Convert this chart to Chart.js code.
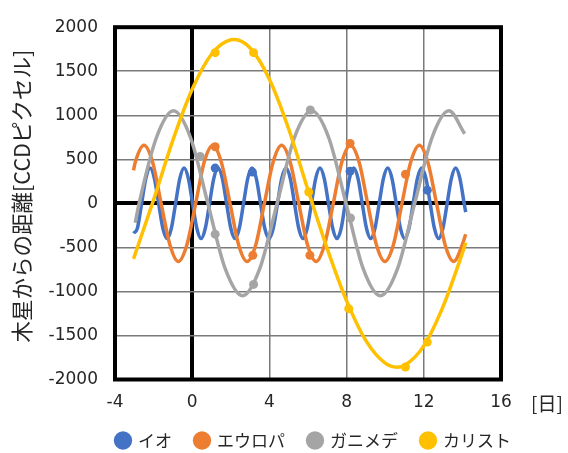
<!DOCTYPE html>
<html><head><meta charset="utf-8">
<script src="https://cdn.jsdelivr.net/npm/chart.js@4/dist/chart.umd.min.js"></script>
<style>html,body{margin:0;padding:0;background:#fff}</style>
</head><body>
<canvas id="c" width="568" height="453"></canvas>
<script>
// ---- data ----
const names = ['イオ', 'エウロパ', 'ガニメデ', 'カリスト'];

const ioDays = [-3.04,-2.84,-2.62,-2.40,-2.18,-1.96,-1.74,-1.52,-1.30,-1.08,-0.86,-0.64,-0.42,-0.20,0.02,0.24,0.46,0.68,0.90,1.12,1.34,1.56,1.78,2.00,2.22,2.44,2.66,2.88,3.10,3.32,3.54,3.76,3.98,4.20,4.42,4.64,4.86,5.08,5.30,5.52,5.74,5.96,6.18,6.40,6.62,6.84,7.06,7.28,7.50,7.72,7.93,8.15,8.37,8.59,8.81,9.03,9.25,9.47,9.69,9.91,10.13,10.35,10.57,10.79,11.01,11.23,11.45,11.67,11.89,12.11,12.33,12.55,12.77,12.99,13.21,13.43,13.65,13.87,14.09,14.17];
const ioDist = [-340,
  -283,0,283,400,283,0,-283,-400,
  -283,0,283,400,283,0,-283,-400,
  -283,0,283,400,283,0,-283,-400,
  -283,0,283,400,283,0,-283,-400,
  -283,0,283,400,283,0,-283,-400,
  -283,0,283,400,283,0,-283,-400,
  -283,0,283,400,283,0,-283,-400,
  -283,0,283,400,283,0,-283,-400,
  -283,0,283,400,283,0,-283,-400,
  -283,0,283,400,283,0,
  -100];

const euDays = [-3.04,-2.95,-2.50,-2.05,-1.61,-1.16,-0.72,-0.27,0.18,0.62,1.07,1.51,1.96,2.40,2.85,3.30,3.74,4.19,4.63,5.08,5.52,5.97,6.42,6.86,7.31,7.75,8.20,8.65,9.09,9.54,9.98,10.43,10.87,11.32,11.77,12.21,12.66,13.10,13.55,14.00,14.17];
const euDist = [375,467,660,467,0,-467,-660,-467,0,467,660,467,0,-467,-660,-467,0,467,660,467,0,-467,-660,-467,0,467,660,467,0,-467,-660,-467,0,467,660,467,0,-467,-660,-467,-350];

const gaDays = [-2.95,-2.75,-1.86,-0.97,-0.08,0.81,1.71,2.61,3.50,4.40,5.29,6.19,7.08,7.97,8.86,9.75,10.64,11.53,12.42,13.30,14.12];
const gaDist = [-220,0,742,1050,742,0,-742,-1050,-742,0,742,1050,742,0,-742,-1050,-742,0,742,1050,790];

const caDays = [-3.04,-2,-1,0,1,2,2.17,3,4,5,6,7,8,9,10,10.62,11,12,13,14,14.17];
const caDist = [-630,40,718,1295,1693,1857,1860,1764,1410,844,152,-517,-1107,-1559,-1815,-1860,-1841,-1618,-1170,-562,-447];

// observed points (markers)
const ioObsDays = [1.19, 3.12, 8.18, 12.18];
const ioObsDist = [400, 355, 365, 150];
const euObsDays = [1.19, 3.14, 6.10, 8.18, 11.05];
const euObsDist = [643, -590, -590, 680, 331];
const gaObsDays = [0.41, 1.19, 3.18, 6.12, 8.20];
const gaObsDist = [533, -350, -920, 1060, -166];
const caObsDays = [1.19, 3.18, 6.04, 8.11, 11.05, 12.18];
const caObsDist = [1711, 1711, 129, -1196, -1858, -1575];

const xMin = -4, xMax = 16, xStep = 4;
const yMin = -2000, yMax = 2000, yStep = 500;
const xUnitLabel = '[日]';
const yTitle = '   木星からの距離[CCDピクセル]';

// ---- styles ----
const colors = ['#4472C4', '#ED7D31', '#A5A5A5', '#FFC000'];
const pts = (d, v) => d.map((x, i) => ({x: x, y: v[i]}));

const lineSets = [[ioDays, ioDist], [euDays, euDist], [gaDays, gaDist], [caDays, caDist]];
const obsSets = [[ioObsDays, ioObsDist], [euObsDays, euObsDist], [gaObsDays, gaObsDist], [caObsDays, caObsDist]];

const datasets = [];
lineSets.forEach((s, i) => {
  datasets.push({
    label: names[i], data: pts(s[0], s[1]),
    borderColor: colors[i], backgroundColor: colors[i],
    borderWidth: 3.5, pointRadius: 0, cubicInterpolationMode: 'monotone',
    order: (3 - i) * 2 + 1
  });
  datasets.push({
    label: names[i] + '_obs', data: pts(obsSets[i][0], obsSets[i][1]),
    borderColor: colors[i], backgroundColor: colors[i], showLine: false,
    pointRadius: 4.5, pointBorderWidth: 0, order: (3 - i) * 2
  });
});

const tickFont = {family: 'DejaVu Sans', size: 17};
const tickColor = '#262626';

const framePlugin = {
  id: 'frame',
  afterLayout(chart) {
    const lg = chart.legend;
    if (lg) { lg.left = 66; lg.right = 561.5; lg.width = lg.right - lg.left; }
  },
  beforeDatasetsDraw(chart) {
    const {ctx, chartArea: a} = chart;
    ctx.save();
    ctx.strokeStyle = '#000';
    ctx.lineWidth = 4;
    ctx.strokeRect(a.left, a.top, a.right - a.left, a.bottom - a.top);
    ctx.restore();
  },
  afterDraw(chart) {
    const {ctx} = chart;
    const xs = chart.scales.x;
    ctx.save();
    ctx.fillStyle = tickColor;
    ctx.font = '19px "Noto Sans CJK JP"';
    ctx.textAlign = 'left';
    ctx.textBaseline = 'middle';
    ctx.fillText(xUnitLabel, xs.right + 30, 404);
    ctx.restore();
  }
};

const gridColor = c => c.tick && c.tick.value === 0 ? '#000' : '#7a7a7a';
const gridWidth = c => c.tick && c.tick.value === 0 ? 4 : 1.5;

new Chart(document.getElementById('c'), {
  type: 'line',
  data: {datasets},
  options: {
    responsive: false, animation: false,
    layout: {padding: {left: 0, right: 67, top: 20, bottom: -6}},
    plugins: {
      tooltip: {enabled: false},
      legend: {
        position: 'bottom',
        labels: {
          usePointStyle: true, boxWidth: 13, boxHeight: 13, padding: 23.5,
          font: {family: 'Noto Sans CJK JP', size: 17}, color: tickColor,
          generateLabels: () => names.map((n, i) => ({
            text: n, fillStyle: colors[i], strokeStyle: colors[i], lineWidth: 0,
            pointStyle: 'circle', hidden: false, datasetIndex: i * 2, fontColor: tickColor
          }))
        }
      }
    },
    scales: {
      x: {
        type: 'linear', min: xMin, max: xMax,
        afterFit: s => { s.height = 29; },
        border: {display: false},
        grid: {drawTicks: false, color: gridColor, lineWidth: gridWidth},
        ticks: {stepSize: xStep, padding: 13, font: tickFont, color: tickColor,
                callback: v => String(v)}
      },
      y: {
        type: 'linear', min: yMin, max: yMax,
        afterFit: s => { s.width = 115; },
        border: {display: false},
        grid: {drawTicks: false, color: gridColor, lineWidth: gridWidth},
        ticks: {stepSize: yStep, padding: 17, font: tickFont, color: tickColor,
                callback: v => String(v)},
        title: {display: true, text: yTitle, color: tickColor,
                font: {family: 'Noto Sans CJK JP', size: 21.5}, padding: {top: 9, bottom: 0}}
      }
    }
  },
  plugins: [framePlugin]
});
</script>
</body></html>
